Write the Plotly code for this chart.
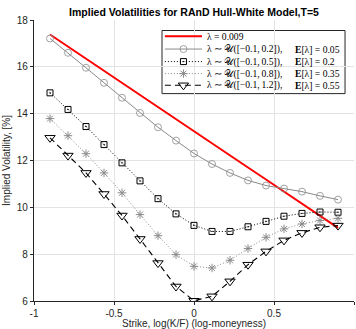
import plotly.graph_objects as go

# ---------------- data ----------------
strikes = [-0.9, -0.7875, -0.675, -0.5625, -0.45, -0.3375, -0.225, -0.1125, 0.0,
           0.1125, 0.225, 0.3375, 0.45, 0.5625, 0.675, 0.7875, 0.9]

vol_const = [17.38, 16.86, 16.35, 15.83, 15.32, 14.80, 14.28, 13.77, 13.25,
             12.73, 12.22, 11.70, 11.19, 10.67, 10.15, 9.64, 9.12]
vol_u02 = [17.21, 16.60, 15.96, 15.32, 14.68, 14.03, 13.42, 12.85, 12.30,
           11.85, 11.47, 11.15, 10.93, 10.80, 10.67, 10.49, 10.33]
vol_u05 = [14.89, 14.18, 13.45, 12.68, 11.90, 11.13, 10.37, 9.72, 9.23,
           8.97, 8.97, 9.17, 9.40, 9.62, 9.74, 9.80, 9.79]
vol_u08 = [13.79, 13.06, 12.29, 11.47, 10.62, 9.69, 8.79, 7.98, 7.48,
           7.41, 7.74, 8.24, 8.72, 9.08, 9.29, 9.44, 9.53]
vol_u12 = [12.97, 12.21, 11.47, 10.57, 9.65, 8.65, 7.62, 6.62, 6.01,
           6.20, 6.84, 7.55, 8.12, 8.59, 8.91, 9.15, 9.22]

x_ticks = [-1, -0.5, 0, 0.5, 1]
x_ticktext = ["-1", "-0.5", "0", "0.5", "1"]
y_ticks = [6, 8, 10, 12, 14, 16, 18]

legend_left = ["λ = 0.009",
               "λ ∼ 𝒰([−0.1,\u20090.2]),",
               "λ ∼ 𝒰([−0.1,\u20090.5]),",
               "λ ∼ 𝒰([−0.1,\u20090.8]),",
               "λ ∼ 𝒰([−0.1,\u20091.2]),"]
legend_right = ["", "<b>E</b>[λ] = 0.05", "<b>E</b>[λ] = 0.2",
                "<b>E</b>[λ] = 0.35", "<b>E</b>[λ] = 0.55"]

# ---------------- styles ----------------
GRAY = "#8a8a8a"
styles = [
    dict(line=dict(color="#ff0000", width=2), mode="lines", marker=None),
    dict(line=dict(color=GRAY, width=1), mode="lines+markers",
         marker=dict(symbol="circle-open", size=7, color=GRAY, line=dict(width=0.8, color=GRAY))),
    dict(line=dict(color="black", width=1, dash="1px,2px"), mode="lines+markers",
         marker=dict(symbol="square-open-dot", size=6, color="black", line=dict(width=1, color="black"))),
    dict(line=dict(color=GRAY, width=1, dash="1px,2px"), mode="lines+markers",
         marker=dict(symbol="asterisk-open", size=7, color=GRAY, line=dict(width=1, color=GRAY))),
    dict(line=dict(color="black", width=1.1, dash="6px,4px"), mode="lines+markers",
         marker=dict(symbol="triangle-down-open", size=9, color="black", line=dict(width=1, color="black"))),
]
series = [vol_const, vol_u02, vol_u05, vol_u08, vol_u12]

fig = go.Figure()
for ys, st in zip(series, styles):
    kw = dict(x=strikes, y=ys, mode=st["mode"], line=st["line"], showlegend=False,
              hoverinfo="skip")
    if st["marker"] is not None:
        kw["marker"] = st["marker"]
    fig.add_trace(go.Scatter(**kw))

# ---------------- custom legend (overlay axes in 0..1 units) ----------------
row_y = [0.9423, 0.8966, 0.8520, 0.8093, 0.7676]
LFONT = dict(family="Liberation Serif", size=9.6, color="black")
for i, st in enumerate(styles):
    fig.add_trace(go.Scatter(x=[0.409, 0.525], y=[row_y[i], row_y[i]], mode="lines",
                             line=st["line"], xaxis="x2", yaxis="y2",
                             showlegend=False, hoverinfo="skip"))
    if st["marker"] is not None:
        fig.add_trace(go.Scatter(x=[0.467], y=[row_y[i]], mode="markers",
                                 marker=st["marker"], xaxis="x2", yaxis="y2",
                                 showlegend=False, hoverinfo="skip"))
    fig.add_annotation(x=0.534, y=row_y[i], xref="paper", yref="paper", text=legend_left[i],
                       showarrow=False, xanchor="left", yanchor="middle", font=LFONT)
    if legend_right[i]:
        fig.add_annotation(x=0.809, y=row_y[i], xref="paper", yref="paper", text=legend_right[i],
                           showarrow=False, xanchor="left", yanchor="middle", font=LFONT)

fig.add_shape(type="rect", xref="paper", yref="paper", x0=0.4, x1=0.972, y0=0.738, y1=0.9626,
              line=dict(color="#262626", width=1), fillcolor="white", layer="below")

fig.update_layout(
    width=356, height=329,
    margin=dict(l=34, r=2, t=20, b=28),
    paper_bgcolor="white", plot_bgcolor="white",
    font=dict(family="Liberation Sans", size=10, color="#262626"),
    title=dict(text="<b>Implied Volatilities for RAnD Hull-White Model,T=5</b>",
               x=0.5, xref="paper", xanchor="center", y=1 - 12 / 329, yref="container",
               yanchor="middle", font=dict(family="Liberation Sans", size=10.5, color="black")),
    xaxis=dict(range=[-1, 1], tickvals=x_ticks, ticktext=x_ticktext, showgrid=True,
               gridcolor="#e3e3e3", gridwidth=1, zeroline=False, showline=True,
               linecolor="#262626", linewidth=1.3, ticks="outside", ticklen=3,
               tickcolor="#262626", tickfont=dict(size=10),
               title=dict(text="Strike, log(K/F) (log-moneyness)", standoff=2,
                          font=dict(size=10))),
    yaxis=dict(range=[6, 18], tickvals=y_ticks, showgrid=True, gridcolor="#e3e3e3",
               gridwidth=1, zeroline=False, showline=True, linecolor="#262626",
               linewidth=1.3, ticks="outside", ticklen=3, tickcolor="#262626",
               tickfont=dict(size=10),
               title=dict(text="Implied Volatility, [%]", standoff=4, font=dict(size=10))),
    xaxis2=dict(range=[0, 1], overlaying="x", visible=False, fixedrange=True),
    yaxis2=dict(range=[0, 1], overlaying="y", visible=False, fixedrange=True),
)

fig.write_html("out.html")
